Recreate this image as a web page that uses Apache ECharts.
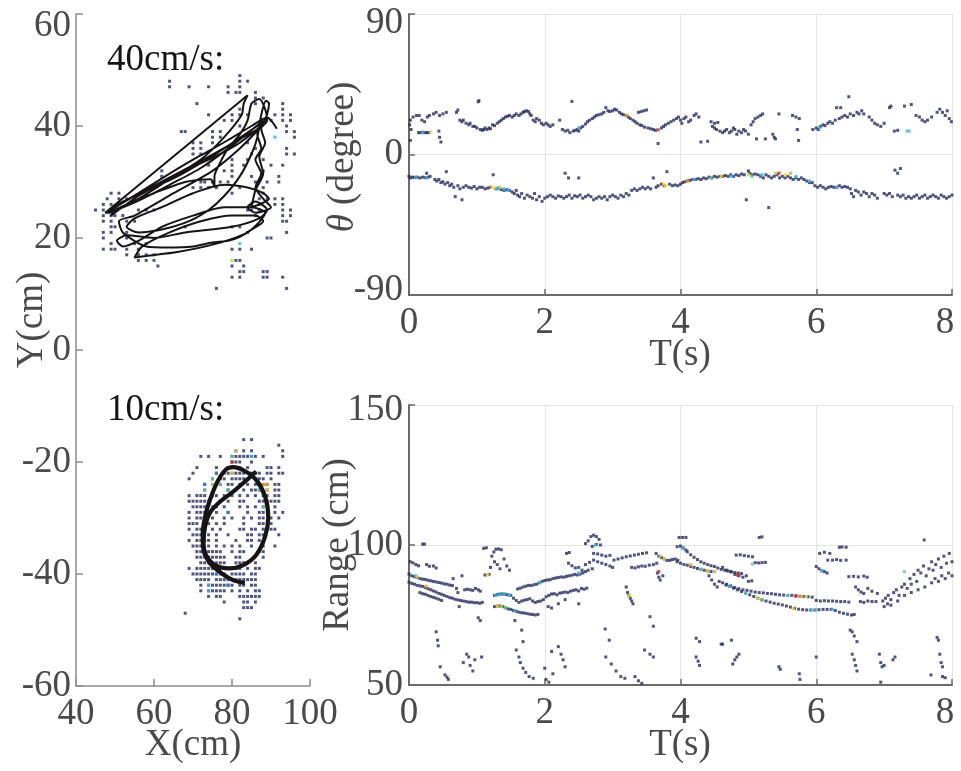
<!DOCTYPE html>
<html><head><meta charset="utf-8">
<script src="https://cdn.jsdelivr.net/npm/echarts@6/dist/echarts.min.js"></script>
<style>html,body{margin:0;padding:0;background:#fff}#c{width:961px;height:771px}</style>
</head><body><div id="c"></div>
<script>
// ---------- tick labels ----------
const xyXTicks = [40, 60, 80, 100];
const xyYTicks = [-60, -40, -20, 0, 20, 40, 60];
const tTicks = [0, 2, 4, 6, 8];
const thetaTicks = [-90, 0, 90];
const rangeTicks = [50, 100, 150];
const textTitles = ['40cm/s:', '10cm/s:'];

// ---------- 40 cm/s dots: [Y, [X...]] ----------
const fastDotRows = [
 [49,[82]],[48,[64,82,84]],[47,[64,69,74,79,82]],[46,[79,81,82,86]],[45,[86,88]],
 [44,[71,86,93]],[43,[82,93]],[42,[74,80,82,84,91,93,95]],[41,[78,80,90,93,95]],
 [40,[82,94]],[39,[67,68,75,77,94,96]],[38,[75,77,96]],[37,[70,72,75,84]],
 [36,[70,72,86,94]],[35,[70,72,85,94,96]],[34,[80,84,88]],[33,[74,80,83,90,93]],
 [32,[62,78,80,88]],[31,[62,80,85,92]],[30,[72,73,75,77,79,86,89,92]],
 [29,[70,72,74,76,82,88]],[28,[49,51,80,88]],[27,[48,51,53,55,87,89,91,93]],
 [26,[47,49,85,87,91,93]],[25,[45,47,49,50,56,58,60,84,85,87,93,95]],
 [24,[47,49,50,52,86,93,95]],[23,[47,49,53,55,93,94]],[22,[49,50,68,80,82]],
 [21,[47,49,53,84,94]],[20,[47,53,89,90]],[19,[49,55,58]],[18,[47,49,50,53,56,80,82,85]],
 [17,[53,56,58,60]],[16,[56,58,60,81,82]],[15,[61,80,83]],[14,[82,83,88,89]],
 [13,[80,82,88,89,93]],[11,[76,94]]
];
const fastDotHi = [[82,19,0.35],[80,16,0.6],[91,38,0.35]];

// ---------- 40 cm/s trajectory [X, Y] ----------
const fastPath = [
 [88,40],[70,33],[55,27.5],[47.5,24.5],[52,26.5],[66,31],[78,36],[88.5,41],
 [86.5,38.5],[87.5,36],[86,34],[87.5,31.5],[86,29],[88,27],[90,25.5],
 [86,24.5],[84,25.5],[86,26.5],[89,25],[87,23.5],[80,22],[68,21],[60,20],[53,20.5],[50.5,19.5],
 [52,18.5],[56,19.5],[62,22],[70,24],[78,25.5],[85,25.5],[88.5,24.5],
 [84,21],[76,19],[66,17.5],[58,16.8],[55,16.5],[57,18.5],[64,21],[72,23],[80,24],[86,24],
 [88,23],[85,21.5],[82,20.2],[79,19.5],[75,19.2],[70,18.5],[64,18.3],[58,18.5],[52,21],[51,23],[55,24],
 [65,28],[75,32],[82,36],[87,39.5],[89,41],
 [88.5,43],[87,44.8],[85,44],[84,41],[82,38.5],[79,36],[77,33.5],[75.5,31],[75.5,29],[74.5,30.5],
 [68,30],[60,28],[53,26],[48.5,24.5],[47.5,24.5],[84,45.5],[83,44],[82.5,42],
 [78,38],[72,34],[64,30.5],[56,27],[50,25],[49,24],
 [56,27.5],[64,30.5],[71,33],[77,35],[82,37],[88,40.5],
 [89.5,44],[88.7,44.5],[87.5,42],[86.5,38],[85,35],[82,31],[78,27.5],[74,25],[69,23],[62,21.5],
 [56,21],[53,22],[55,23.5],
 [62,25.5],[70,28],[78,29.5],[84,29],[88,28],[89.5,27],[87,26],[85,25.5],[86,28.5],[88,31.5],
 [87,34.5],[88.5,37],[87.5,39.5],[88,41],
 [80,36.5],[72,32.5],[64,29.5],[57,27],[51,25.2],[48.5,24.8],
 [56,28],[64,31.5],[70,34],[74,35.5],[79,37.5],[85,40],[89,41.5],[91.5,39.5]
];

// ---------- 10 cm/s dots: [Y, [X...]] ----------
const slowDotRows = [
 [-16,[83,85]],[-17,[92]],[-18,[81,83,85,93]],[-19,[72,74,77,80,81,82,83,84,85,86,88,93]],
 [-20,[80,81,82,85]],[-21,[71,76,79,80,82,84,89,90,92]],
 [-22,[70,76,78,79,80,81,82,83,85,86,87,89,90,92,93]],
 [-23,[69,75,77,78,80,81,82,83,84,86,87,88,90]],
 [-24,[73,75,76,77,79,80,82,84,86,88,89,91,92]],[-25,[73,79,81,83,85,86,87,89,91,92]],
 [-26,[69,71,72,73,75,76,78,80,82,84,86,88,89,91,92]],
 [-27,[69,70,71,72,73,74,77,79,82,83,87,88,89,90,91,92]],
 [-28,[70,71,72,73,75,76,78,82,84,86,88,89,91]],[-29,[69,71,72,73,74,76,79,84,87,88,91,93]],
 [-30,[69,71,72,73,75,78,80,83,85,87,88,90,92]],[-31,[69,70,71,74,76,78,83,87,88,90]],
 [-32,[69,71,72,73,75,77,82,83,85,86,88,90,91]],[-33,[70,71,72,74,76,79,84,85,87,88,92]],
 [-34,[69,71,72,73,74,76,81,84,85,87]],[-35,[70,71,72,74,76,78,80,82,85,88,91]],
 [-36,[71,72,73,74,75,76,77,80,82,83,87,88]],[-37,[71,72,73,74,75,76,77,78,81,82,88]],
 [-38,[72,73,74,75,76,77,78,81,82,83,86]],[-39,[69,71,72,73,74,75,76,77,80,81,82,84,86,87]],
 [-40,[70,71,72,73,74,75,76,77,78,80,81,82,83,85,86]],
 [-41,[71,72,73,74,76,77,78,79,81,82,83,84,85,86]],[-42,[72,74,75,76,77,78,79,80,82,83,85,86]],
 [-43,[72,74,75,76,77,78,80,82,84,86,87]],[-44,[74,76,77,82,83,84,85,86,87]],
 [-45,[78,83,84,86]],[-46,[83,84,85]],[-47,[68]],[-48,[82]]
];
const slowDotHi = [
 [81,-18,0.6],[80,-19,0.5],[85,-19,0.35],[80,-20,1],[82,-21,0.83],[76,-22,0.2],[80,-22,0.67],
 [75,-23,0.5],[73,-24,0.2],[75,-24,0.67],[77,-24,0.5],[88,-24,0.83],[89,-24,0.83],[73,-25,0.5],
 [79,-25,0.35],[87,-25,0.5],[89,-25,0.67],[77,-27,0.35],[75,-28,0.35],[88,-28,0.5],[79,-29,0.2],
 [76,-40,0.2],[74,-42,0.35],[79,-42,0.2],[74,-43,0.35]
];

// ---------- 10 cm/s trajectory [X, Y] ----------
const slowPath = [
 [86.2,-21.7],[83.8,-23.2],[80.3,-25.3],[76.9,-27.1],[74.4,-29.0],[73.1,-31.5],[72.7,-34.5],
 [73.3,-36.6],[75.6,-38.4],[79.1,-39.0],[82.9,-38.4],[86.2,-36.6],[88.5,-33.3],[89.3,-29.8],
 [88.5,-26.2],[86.2,-23.2],[83.3,-21.6],[80.3,-20.9],[78.5,-21.3],[76.5,-23.2],[74.8,-25.9],
 [73.3,-29.2],[72.5,-32.8],[72.7,-35.7],[74.4,-38.1],[77.4,-39.9],[80.3,-41.1],[83.3,-41.6]
];

// ---------- theta (degree) vs T (s) ----------
const thetaUpper = [
 [0.01,19],[0.02,22],[0.03,16],[0.02,9],[0.06,24],[0.11,25],[0.15,25],[0.19,22],[0.23,21],[0.27,24],
 [0.3,25],[0.36,26],[0.4,27],[0.45,25],[0.5,26],[0.55,27],[0.45,11],[0.47,8],[0.44,15],
 [0.14,14],[0.17,14],[0.2,14.3],[0.23,14],[0.26,14],[0.29,14],
 [0.7,27],[0.72,28.5],[0.75,22],[0.78,21],[0.8,22],[0.84,20],[0.88,19],[0.9,20],[0.94,18],[0.97,18],
 [1.0,17],[1.02,33.8],[1.03,34.5],[1.05,16],[1.08,15.5],[1.1,16],[1.12,17],[1.15,16],[1.18,17],
 [1.2,16.5],[1.23,19],[1.26,18.5],[1.3,20],[1.33,21],[1.36,22],[1.39,23],[1.42,24],[1.45,24.5],
 [1.48,25],[1.52,24],[1.55,25],[1.58,26],[1.62,25],[1.65,26],[1.68,27],[1.7,27.5],[1.73,28],
 [1.76,27.5],[1.78,26],[1.8,25],[1.83,22],[1.86,21],[1.88,23],[1.92,22],[1.95,20],[1.98,19],
 [2.02,20],[2.05,19],[2.08,18],[2.12,19],[2.22,22],[2.26,16],[2.3,15],[2.34,15.5],[2.37,14],
 [2.4,34],[2.42,15],[2.45,15.5],[2.48,16],[2.5,15],[2.53,17],[2.56,18],[2.6,19.5],[2.63,21],
 [2.66,22],[2.7,23],[2.73,24],[2.76,25],[2.8,25.5],[2.84,26],[2.87,27],[2.9,30],[2.93,28],
 [2.96,27.5],[3.0,28],[3.03,29],[3.06,28.5],[3.1,27],[3.13,26],[3.16,25.5],[3.2,25],[3.23,24],
 [3.26,23],[3.3,22],[3.33,21],[3.36,20],[3.4,19],[3.43,18.5],[3.38,27],[3.42,27.5],[3.46,28],
 [3.5,28.5],[3.47,17.5],[3.52,17],[3.56,16.5],[3.6,16],[3.63,15.5],[3.67,7],[3.72,17],[3.75,18],
 [3.78,19],[3.82,20],[3.86,21],[3.9,22],[3.94,23],[3.97,24],
 [4.0,22],[4.02,20],[4.05,23],[4.08,24],[4.12,21],[4.15,22],[4.2,25],[4.23,26],[4.27,24],[4.3,8],
 [4.4,8.5],[4.45,21],[4.5,20],[4.55,20.5],[4.47,18],[4.5,17],[4.53,16],[4.58,15],[4.62,14],
 [4.65,15],[4.68,16],[4.72,14],[4.75,15],[4.78,17],[4.8,16],[4.83,13],[4.86,15],[4.9,14],
 [4.93,16],[4.96,15],[5.0,13],[5.04,19],[5.07,21],[5.1,23],[5.14,24],[5.18,25],[5.21,26],
 [5.12,10],[5.25,10],[5.36,13],[5.38,11],[5.4,10],[5.45,26],[5.65,25],[5.7,24],[5.75,23],
 [5.72,16],[5.74,9],[5.95,16],[6.0,17],[6.03,16],[6.06,18],[6.1,19],[6.13,18.5],[6.17,20],
 [6.2,21],[6.24,20],[6.28,22],[6.3,30],[6.36,30],[6.34,23],[6.38,24],[6.42,25],[6.46,24],
 [6.48,37],[6.5,26],[6.55,25],[6.6,27],[6.63,26],[6.67,28],[6.7,26],[6.78,24],[6.82,22],
 [6.86,20],[6.9,19],[6.95,18],[7.0,20],[7.08,30],[7.1,31],[7.15,15],[7.2,15.5],[7.3,31],
 [7.4,32],[7.47,25],[7.52,24],[7.56,22],[7.6,21],[7.64,22],[7.7,24],[7.78,27],[7.82,29],
 [7.86,27],[7.9,25],[7.93,28],[7.96,23],[7.99,21]
];
const thetaLower = [
 [0.0,-14],[0.02,-15],[0.05,-14.5],[0.08,-14.7],[0.12,-14.5],[0.16,-15],[0.2,-14.5],[0.24,-14.8],
 [0.28,-14.6],[0.31,-14],[0.26,-12],[0.38,-16],[0.41,-17],[0.44,-16],[0.47,-18],[0.5,-17.5],
 [0.53,-19],[0.55,-11],[0.57,-18],[0.6,-20],[0.63,-19],[0.66,-21],[0.68,-27],[0.72,-20],
 [0.75,-22],[0.78,-29],[0.8,-21],[0.84,-20],[0.88,-21],[0.92,-21.5],[0.96,-20.5],[1.0,-22],
 [1.04,-21],[1.08,-21],[1.12,-22],[1.16,-21.5],[1.2,-21],[1.24,-13],[1.28,-22],[1.32,-21.5],
 [1.36,-22.5],[1.4,-23],[1.44,-22.5],[1.48,-23],[1.52,-24],[1.55,-25],[1.58,-23],[1.6,-26],
 [1.63,-27],[1.66,-25],[1.7,-28],[1.74,-26],[1.78,-27],[1.82,-28],[1.85,-25],[1.88,-29],
 [1.92,-27],[1.96,-30],[2.0,-28],[2.04,-27],[2.08,-26],[2.12,-27],[2.16,-28],[2.2,-26.5],
 [2.24,-27],[2.28,-28],[2.3,-12],[2.35,-15],[2.5,-15],[2.32,-27],[2.36,-26],[2.4,-28],
 [2.44,-26.5],[2.48,-27],[2.52,-26],[2.56,-28],[2.6,-27],[2.64,-26],[2.68,-27],[2.72,-29],
 [2.76,-28],[2.8,-27],[2.84,-28],[2.88,-27],[2.92,-29],[2.96,-27],[3.0,-26],[3.04,-27],
 [3.08,-28],[3.12,-26],[3.16,-27],[3.2,-25],[3.24,-26],[3.28,-23],[3.32,-22],[3.36,-23],
 [3.4,-22],[3.44,-21],[3.48,-22],[3.52,-21],[3.56,-22],[3.6,-15],[3.64,-21],[3.67,-20],
 [3.72,-19],[3.76,-20],[3.8,-11],[3.84,-19],[3.88,-20],[3.92,-19.5],[3.96,-20],
 [4.0,-19],[4.03,-18],[4.06,-17.5],[4.1,-17],[4.14,-16.5],[4.18,-16],[4.22,-16],[4.26,-15.5],
 [4.3,-16],[4.34,-15],[4.38,-15.5],[4.42,-14.5],[4.46,-15],[4.5,-14],[4.54,-14.5],[4.58,-14],
 [4.62,-14],[4.66,-13.5],[4.7,-14],[4.74,-13],[4.78,-14],[4.82,-13],[4.86,-13.5],[4.9,-12.5],
 [4.94,-13],[4.97,-29],[5.0,-10.5],[5.02,-12],[5.06,-13],[5.1,-12.5],[5.14,-13],[5.18,-14],
 [5.22,-15],[5.26,-13],[5.3,-34],[5.3,-14],[5.34,-15],[5.38,-14],[5.42,-13],[5.46,-15],
 [5.5,-14],[5.54,-15],[5.58,-14],[5.62,-15],[5.66,-16],[5.7,-15],[5.74,-16],[5.78,-15],
 [5.82,-16],[5.86,-17],[5.9,-18],[5.94,-18],[5.98,-20],[6.02,-21],[6.06,-20],[6.1,-21],
 [6.14,-22],[6.18,-21],[6.22,-20.5],[6.26,-21],[6.3,-21],[6.34,-20],[6.38,-21],[6.42,-20.5],
 [6.46,-21],[6.5,-22],[6.52,-25],[6.55,-27],[6.58,-23],[6.62,-24],[6.66,-26],[6.7,-24],
 [6.74,-25],[6.78,-27],[6.82,-25],[6.86,-26],[6.9,-28],[7.0,-25],[7.04,-26],[7.08,-25],
 [7.12,-27],[7.16,-10],[7.2,-12],[7.24,-9],[7.2,-26],[7.24,-27],[7.28,-26],[7.32,-28],
 [7.36,-27],[7.4,-28],[7.44,-27],[7.48,-26],[7.52,-28],[7.56,-27],[7.6,-26],[7.64,-28],
 [7.68,-27],[7.72,-26],[7.76,-27],[7.8,-28],[7.84,-26],[7.88,-27],[7.92,-28],[7.96,-27],[8.0,-26]
];
const thetaHi = [
 [3.67,15.8,1],[3.2,25,0.83],[2.5,17,0.35],[0.32,14.5,0.67],[0.2,14,0.35],[7.34,15,0.35],[7.37,15,0.5],
 [6.05,17,0.35],[0.1,-14.5,0.35],[0.26,-15,0.35],[1.22,-21,0.67],[1.26,-21.5,0.67],[1.3,-22,0.35],
 [1.34,-21,0.6],[1.4,-22,0.35],[1.46,-23,0.35],[3.75,-19,0.67],[3.78,-20,0.67],[4.1,-17,0.83],
 [4.2,-16,0.35],[4.45,-15,0.5],[4.6,-14,0.67],[4.75,-14,0.35],[5.0,-13,0.67],[5.05,-14,0.5],
 [5.2,-13,0.35],[5.4,-12,0.6],[5.45,-12,1],[5.55,-13,0.67],[5.62,-12,0.83],[5.7,-14,0.35],
 [5.9,-17,0.35],[6.3,-21,0.35]
];

// ---------- range (cm) vs T (s) ----------
const rangeMain = [
 [0.0,89.6],[0.04,89],[0.08,88.7],[0.12,88.4],[0.16,88],[0.2,87.8],[0.24,87.7],[0.28,87.4],[0.32,87.2],
 [0.36,87],[0.4,86.8],[0.44,86.6],[0.48,86.4],[0.52,86.1],[0.56,86],[0.6,85.7],[0.64,85.5],
 [0.0,86.7],[0.04,86.3],[0.08,86],[0.12,85.6],[0.16,85.4],[0.2,85.2],[0.24,84.8],[0.28,84.4],
 [0.32,84],[0.36,83.6],[0.4,83.2],[0.44,82.7],[0.48,82.4],[0.52,82],[0.56,81.6],[0.6,81.2],
 [0.64,81],[0.68,80.6],[0.72,80.4],[0.76,80.2],[0.8,80],[0.84,79.8],[0.88,79.6],[0.92,79.6],
 [0.96,79.4],[1.0,79.4],[1.04,79.2],[1.08,79.5],
 [0.16,83],[0.2,82.6],[0.24,82.4],[0.28,82],[0.32,81.6],[0.36,81.3],[0.4,81],[0.44,80.6],[0.48,80.2],
 [0.02,94],[0.06,93.6],[0.1,93],[0.14,92.6],[0.2,100.3],[0.23,100.3],[0.26,93],[0.3,92.4],
 [0.36,92.5],[0.4,91.8],[0.65,88],[0.7,84.5],[0.72,83],[0.74,78],[0.78,89],[0.82,84],[0.86,84.2],
 [0.9,84],[0.94,83.8],[0.98,84.5],[1.02,84],[1.05,83.5],
 [1.1,98.8],[1.14,99],[1.12,89.3],[1.18,89.5],[1.22,96],[1.25,97.5],[1.28,98.5],[1.32,98.6],
 [1.36,98.3],[1.26,94],[1.3,93],[1.34,91.5],[1.4,95],[1.44,92.5],[1.48,91],[1.2,92],
 [1.26,82],[1.3,82.3],[1.34,82.5],[1.38,82.5],[1.42,82.4],[1.46,82.2],[1.5,82],[1.54,81],
 [1.58,80.2],[1.62,79.5],
 [1.26,78],[1.3,78.2],[1.34,78.2],[1.38,78],[1.42,77.6],[1.46,77.2],[1.5,77],[1.54,76.6],
 [1.58,76.3],[1.62,76],[1.66,75.8],[1.7,75.7],[1.74,75.5],[1.78,75.3],[1.82,75.2],[1.86,75],[1.9,75.2],
 [1.6,84.3],[1.64,84.6],[1.68,85],[1.72,85.3],[1.76,85.6],[1.8,85.5],[1.84,85.8],[1.88,86],
 [1.92,86.5],[1.96,87],[2.0,87.3],[2.04,87.5],[2.08,87.6],[2.12,88],[2.16,88.2],[2.2,88.4],
 [2.24,88.6],[2.28,88.5],[2.32,88.8],[2.36,89],[2.4,89.2],[2.44,89.5],[2.48,89.3],[2.52,89.6],
 [2.56,90],[2.6,90.5],[2.64,91],
 [1.66,80],[1.7,80.3],[1.74,80.5],[1.78,80.8],[1.82,80],[1.86,79.5],[1.9,79.8],[1.94,80],
 [1.98,80.5],[2.02,81.5],[2.06,82],[2.1,82.5],[2.14,82.6],[2.18,82.2],[2.22,82.8],[2.26,83],
 [2.3,83.2],[2.34,83],[2.38,83.5],[2.42,83.8],[2.46,84],[2.5,83.6],[2.54,84.5],[2.58,84.2],[2.62,84.6],
 [2.05,78],[2.1,77.5],[2.2,79],[2.3,80.5],[2.5,79],
 [2.32,97],[2.36,97.3],[2.35,93.5],[2.4,92.6],[2.45,91.8],[2.5,92],[2.55,91],[2.6,93],[2.66,93.8],[2.7,91.5],
 [2.6,100.5],[2.64,101.5],[2.68,103],[2.72,103.5],[2.76,103],[2.8,102],[2.82,100],[2.7,99.5],[2.76,100.2],
 [2.72,97],[2.78,96.8],[2.84,96.4],[2.9,96],[2.96,96.3],
 [2.72,94.6],[2.78,94],[2.84,93.5],[2.9,93],[2.96,92.5],[3.0,92],
 [3.02,94.6],[3.08,95],[3.14,95.4],[3.2,95.8],[3.26,96.1],[3.32,96.4],[3.38,96.7],[3.44,97],[3.5,97.2],
 [3.28,92],[3.33,91.8],[3.38,92.2],[3.43,92.5],[3.48,92.4],[3.54,92.8],[3.6,93],[3.65,93.5],
 [3.2,85],[3.22,83],[3.24,82],[3.26,81],[3.28,80],[3.3,79],
 [3.64,97],[3.68,96],[3.72,95.5],[3.76,95],[3.8,94.5],[3.84,94.5],[3.88,94.8],[3.92,95],[3.96,94.6],
 [3.66,90],[3.68,88.5],[3.7,87.5],[3.74,89],
 [3.98,102.7],[4.03,102.7],[4.08,102.7],[5.16,102.7],[5.2,102.9],
 [3.95,99.4],[4.0,99.6],[4.04,99],[4.08,98.2],
 [4.1,97.6],[4.15,96.5],[4.2,95.6],[4.25,94.8],[4.3,94],[4.35,93.5],[4.4,93],[4.45,92.6],[4.5,92.3],
 [4.55,91.8],[4.6,91.3],[4.65,91],[4.7,90.7],[4.75,90.4],[4.8,90.2],[4.85,90],[4.9,89.8],
 [3.95,94],[4.0,93.5],[4.05,93],[4.1,92.8],[4.15,92.3],[4.2,92],[4.25,91.6],[4.3,91.3],[4.35,91],
 [4.4,90.7],[4.45,90.5],
 [4.82,96.4],[4.88,96.5],[4.94,96.2],[5.0,96],[5.06,95.8],[5.1,93.7],[5.15,93.6],[5.2,93.7],[5.25,93.8],
 [4.62,92],[4.68,91],[4.74,90.5],[4.8,89.5],[4.86,89],[4.92,88.5],[4.97,89],
 [4.42,89],[4.46,87.5],[4.5,86],[4.54,85],[4.57,87],
 [4.62,86.5],[4.68,86],[4.74,85.4],[4.8,84.8],[4.86,84.4],[4.92,84],[4.98,83.8],[5.04,83.5],
 [5.1,83.2],[5.16,83],[5.22,82.9],[5.28,82.7],[5.34,82.6],[5.4,82.4],[5.46,82.2],[5.52,82.1],
 [5.58,82],[5.64,82],[5.7,81.8],[5.76,81.7],[5.82,81.6],[5.88,81.5],[5.94,81.4],[6.0,80.2],
 [6.06,80],[6.12,80.1],[6.18,80],[6.24,80],[6.3,79.9],[6.36,79.8],[6.42,79.8],[6.48,79.6],
 [4.67,85.7],[4.72,85.2],[4.78,84.6],[4.84,84],[4.9,83.4],[4.96,82.8],[5.02,82.2],[5.08,81.6],
 [5.14,81],[5.2,80.4],[5.26,80],[5.32,79.6],[5.38,79.2],[5.44,78.9],[5.5,78.6],[5.56,78.2],
 [5.62,77.8],[5.68,77.4],[5.74,77.1],[5.8,76.9],[5.86,76.8],[5.92,76.8],[5.98,76.8],[6.04,76.9],
 [6.1,77],[6.16,77],[6.22,77],[6.28,76.6],[6.34,76],[6.4,75.6],[6.46,75.3],[6.52,75],[6.56,75.2],
 [5.0,87],[5.05,87.2],
 [6.0,92.3],[6.04,91.5],[6.08,90.8],[6.12,90.5],[6.16,90],[6.05,97],[6.12,97.4],[6.2,97],
 [6.34,99.2],[6.38,99.3],[6.44,99.2],[6.17,94.6],[6.24,94.6],[6.3,94.8],[6.36,94.5],[6.44,94.6],
 [6.48,88.7],[6.55,88.8],[6.62,88.6],[6.7,88.9],[6.75,88.5],
 [6.58,85],[6.62,84],[6.66,83.2],[6.7,82.7],[6.76,84.5],[6.82,83.5],[6.9,82.7],
 [6.65,79.8],[6.7,79.5],[6.76,80],[6.82,79.8],[6.88,79.8],
 [6.98,80],[7.02,81],[7.06,82],[7.1,80.5],[7.14,83],[7.18,84],[7.22,82],[7.26,85],[7.3,86],
 [7.34,84.5],[7.38,88],[7.4,86],[7.44,89.5],[7.48,87],[7.5,91],[7.54,90],[7.58,92.5],[7.62,89],
 [7.66,91.5],[7.7,94],[7.72,91],[7.76,93],[7.8,95],[7.84,92],[7.88,96],[7.92,93.5],[7.96,97],
 [8.0,94],[7.59,101.8],
 [7.0,78],[7.05,79],[7.1,78.5],[7.2,80],[7.3,82],[7.4,83],[7.5,84],[7.6,85],[7.7,86.5],[7.75,88],
 [7.8,87],[7.85,89],[7.9,88],[7.95,90],[8.0,89]
];
const rangeLow = [
 [0.4,69],[0.42,66],[0.43,64],[0.46,56.5],[0.53,53.6],[0.56,52.8],[0.58,52],[0.8,58],[0.85,61],
 [0.88,60],[0.9,57],[0.94,55],[0.97,59],[1.02,74],[1.05,73],[1.07,60],[1.56,73],[1.58,62.5],
 [1.62,60],[1.64,58],[1.68,56],[1.72,54.5],[1.77,53],[1.83,52.4],[1.66,69.6],[1.68,65.5],
 [2.0,56],[2.02,52],[2.06,51],[2.1,62],[2.12,54],[2.2,63.7],[2.24,61],[2.27,59],[2.3,56.5],
 [2.89,70],[2.95,66],[2.9,60],[2.98,57.5],[3.05,55],[3.12,53],[3.18,52.4],[3.33,53],[3.38,51.5],
 [3.43,50.6],[3.47,62.5],[3.55,61],[3.6,60],[3.55,74.4],[3.6,71],
 [4.23,66.7],[4.28,65.5],[4.23,60],[4.26,58.5],[4.28,57],[4.6,64.6],[4.62,64.6],[4.75,66],
 [4.77,57.5],[4.8,59],[4.83,60],[4.86,61],[5.45,56.5],[5.47,55.6],[5.75,54],[5.76,52],[6.0,60],
 [6.5,69.6],[6.53,69],[6.56,67.5],[6.6,65.5],[6.53,61],[6.56,59],[6.58,57],[6.6,55],[6.93,61],
 [6.95,58],[6.97,56.5],[7.0,57],[6.95,51],[7.13,59],[7.16,60],[7.69,53.6],[7.78,67],[7.8,66],
 [7.82,61],[7.84,58],[7.86,56.5],[7.86,53],[7.9,52.6]
];
const rangeHi = [
 [0.1,89,0.35],[0.12,88.6,0.67],[0.25,85.3,0.83],[1.16,89.3,0.67],[1.28,82,0.35],[1.34,82.4,0.35],
 [1.4,82.5,0.35],[1.48,82.1,0.35],[1.3,78.2,0.67],[1.36,78.1,0.6],[1.42,77.6,0.5],[1.56,76.5,0.35],
 [1.93,86.6,0.35],[2.5,90,0.35],[2.75,100,0.35],[3.25,82,0.67],[3.7,96,0.6],[3.76,95,0.67],
 [3.68,90.5,1],[4.03,98.8,0.35],[4.15,92.9,0.83],[4.3,91.3,0.5],[4.4,90.7,0.67],[4.5,90.5,0.83],
 [4.84,89.3,1],[5.06,93.2,0.5],[4.72,85.2,0.35],[4.96,82.8,0.5],[5.14,81,0.67],[5.2,80.4,0.5],
 [5.58,82,0.5],[5.7,81.8,1],[5.76,81.7,0.83],[5.66,77.3,0.67],[5.85,81.5,0.67],[5.92,76.8,0.35],
 [6.0,76.8,0.5],[6.08,90.8,0.35],[6.24,77,0.35],[7.3,90.5,0.5]
];

// ---------- build point lists ----------
function rowsToPoints(rows){ const out=[]; rows.forEach(r=>r[1].forEach(x=>out.push([x,r[0]]))); return out; }
const fastDots = rowsToPoints(fastDotRows);
const slowDots = rowsToPoints(slowDotRows);
const thetaAll = thetaUpper.concat(thetaLower);

const FONT = '"Liberation Serif","DejaVu Serif",serif';
const GREY = '#4a4a4a';
const DOT = '#252a5a';
const LEFTAX = '#8c8c8c';
const RIGHTAX = '#6a6a6a';

function labelCfg(extra){ return Object.assign({fontFamily:FONT,fontSize:37,color:GREY}, extra||{}); }
function dotSeries(data,xi,yi){ return {type:'scatter',xAxisIndex:xi,yAxisIndex:yi,data:data,symbol:'rect',symbolSize:3,itemStyle:{color:DOT},silent:true,animation:false,z:2}; }
function hiSeries(data,xi,yi){ return {type:'scatter',xAxisIndex:xi,yAxisIndex:yi,data:data,symbol:'rect',symbolSize:3.2,silent:true,animation:false,z:3}; }

const richShift = {
  dn12:{fontFamily:FONT,fontSize:37,color:GREY,padding:[24,0,0,0]},
  dn9:{fontFamily:FONT,fontSize:37,color:GREY,padding:[18,0,0,0]},
  dn5:{fontFamily:FONT,fontSize:37,color:GREY,padding:[10,0,0,0]},
  up5:{fontFamily:FONT,fontSize:37,color:GREY,padding:[0,0,10,0]},
  lf7:{fontFamily:FONT,fontSize:37,color:GREY,padding:[0,14,0,0]}
};

const chart = echarts.init(document.getElementById('c'), null, {renderer:'canvas'});
chart.setOption({
  animation:false,
  backgroundColor:'#ffffff',
  grid:[
    {left:76, top:14, width:234, height:672},
    {left:409, top:14, width:543, height:281},
    {left:409, top:405, width:543, height:280}
  ],
  xAxis:[
    {gridIndex:0,type:'value',min:xyXTicks[0],max:xyXTicks[xyXTicks.length-1],interval:20,
     axisLine:{show:true,onZero:false,lineStyle:{color:LEFTAX,width:1.5}},
     axisTick:{show:true,inside:true,length:7,lineStyle:{color:LEFTAX,width:1.5}},
     axisLabel:labelCfg({margin:10,showMinLabel:true,showMaxLabel:true,hideOverlap:false}),
     splitLine:{show:false}},
    {gridIndex:1,type:'value',min:tTicks[0],max:tTicks[tTicks.length-1],interval:2,
     axisLine:{show:true,onZero:false,lineStyle:{color:RIGHTAX,width:2}},
     axisTick:{show:true,inside:true,length:6,lineStyle:{color:RIGHTAX,width:1.5}},
     axisLabel:labelCfg({margin:10,showMinLabel:true,showMaxLabel:true,hideOverlap:false,
        formatter:v=>v===8?'{lf7|8}':String(v),rich:richShift}),
     splitLine:{show:true,lineStyle:{color:'#e4e4e4',width:1}}},
    {gridIndex:2,type:'value',min:tTicks[0],max:tTicks[tTicks.length-1],interval:2,
     axisLine:{show:true,onZero:false,lineStyle:{color:RIGHTAX,width:2}},
     axisTick:{show:true,inside:true,length:6,lineStyle:{color:RIGHTAX,width:1.5}},
     axisLabel:labelCfg({margin:10,showMinLabel:true,showMaxLabel:true,hideOverlap:false,
        formatter:v=>v===8?'{lf7|8}':String(v),rich:richShift}),
     splitLine:{show:true,lineStyle:{color:'#e4e4e4',width:1}}}
  ],
  yAxis:[
    {gridIndex:0,type:'value',min:xyYTicks[0],max:xyYTicks[xyYTicks.length-1],interval:20,
     axisLine:{show:true,onZero:false,lineStyle:{color:LEFTAX,width:1.5}},
     axisTick:{show:true,inside:true,length:7,lineStyle:{color:LEFTAX,width:1.5}},
     axisLabel:labelCfg({margin:5,showMinLabel:true,showMaxLabel:true,hideOverlap:false,
        formatter:v=>v===60?'{dn12|60}':String(v),rich:richShift}),
     splitLine:{show:false}},
    {gridIndex:1,type:'value',min:thetaTicks[0],max:thetaTicks[thetaTicks.length-1],interval:90,
     axisLine:{show:true,onZero:false,lineStyle:{color:RIGHTAX,width:2}},
     axisTick:{show:true,inside:true,length:6,lineStyle:{color:RIGHTAX,width:1.5}},
     axisLabel:labelCfg({margin:6,showMinLabel:true,showMaxLabel:true,hideOverlap:false,
        formatter:v=>v===90?'{dn9|90}':(v===-90?'{up5|-90}':String(v)),rich:richShift}),
     splitLine:{show:true,lineStyle:{color:'#e4e4e4',width:1}}},
    {gridIndex:2,type:'value',min:rangeTicks[0],max:rangeTicks[rangeTicks.length-1],interval:50,
     axisLine:{show:true,onZero:false,lineStyle:{color:RIGHTAX,width:2}},
     axisTick:{show:true,inside:true,length:6,lineStyle:{color:RIGHTAX,width:1.5}},
     axisLabel:labelCfg({margin:6,showMinLabel:true,showMaxLabel:true,hideOverlap:false,
        formatter:v=>v===150?'{dn5|150}':String(v),rich:richShift}),
     splitLine:{show:true,lineStyle:{color:'#e4e4e4',width:1}}}
  ],
  visualMap:{type:'continuous',show:false,min:0,max:1,dimension:2,seriesIndex:[2,3,5,6,7,10],
    inRange:{color:['#283064','#2f6fe0','#38b4e4','#6cc7a0','#e8d440','#f59b2c','#c8302a']}},
  series:[
    dotSeries(fastDots,0,0),           //0
    dotSeries(slowDots,0,0),           //1
    hiSeries(fastDotHi,0,0),           //2
    hiSeries(slowDotHi,0,0),           //3
    {type:'line',xAxisIndex:0,yAxisIndex:0,data:fastPath,showSymbol:false,symbol:'none',smooth:0.25,
     lineStyle:{color:'#161414',width:2},silent:true,z:5}, //4
    hiSeries([],0,0),                  //5 (placeholder)
    hiSeries(thetaHi,1,1),             //6
    hiSeries(rangeHi,2,2),             //7
    dotSeries(thetaAll,1,1),           //8
    dotSeries(rangeMain.concat(rangeLow),2,2), //9
    hiSeries([],2,2),                  //10 (placeholder)
    {type:'line',xAxisIndex:0,yAxisIndex:0,data:slowPath,showSymbol:false,symbol:'none',
     lineStyle:{color:'#161414',width:4.2},smooth:0.3,silent:true,z:5} //11
  ],
  graphic:[
    {type:'text',x:32,y:320,rotation:Math.PI/2,style:{text:'Y(cm)',font:'37px '+FONT,fill:GREY,align:'center',verticalAlign:'middle'}},
    {type:'text',x:193,y:745,style:{text:'X(cm)',font:'37px '+FONT,fill:GREY,align:'center',verticalAlign:'middle'}},
    {type:'text',x:680,y:355,style:{text:'T(s)',font:'37px '+FONT,fill:GREY,align:'center',verticalAlign:'middle'}},
    {type:'text',x:680,y:745,style:{text:'T(s)',font:'37px '+FONT,fill:GREY,align:'center',verticalAlign:'middle'}},
    {type:'text',x:343,y:157,rotation:Math.PI/2,style:{text:'{i|θ} (degree)',font:'37px '+FONT,fill:GREY,align:'center',verticalAlign:'middle',
      rich:{i:{fontStyle:'italic',fontFamily:FONT,fontSize:37,fill:GREY,color:GREY}}}},
    {type:'text',x:338,y:545,rotation:Math.PI/2,style:{text:'Range (cm)',font:'37px '+FONT,fill:GREY,align:'center',verticalAlign:'middle'}},
    {type:'text',x:107,y:60,style:{text:textTitles[0],font:'37px '+FONT,fill:'#151515',align:'left',verticalAlign:'middle'}},
    {type:'text',x:107,y:410,style:{text:textTitles[1],font:'37px '+FONT,fill:'#151515',align:'left',verticalAlign:'middle'}}
  ]
});
</script>
</body></html>
